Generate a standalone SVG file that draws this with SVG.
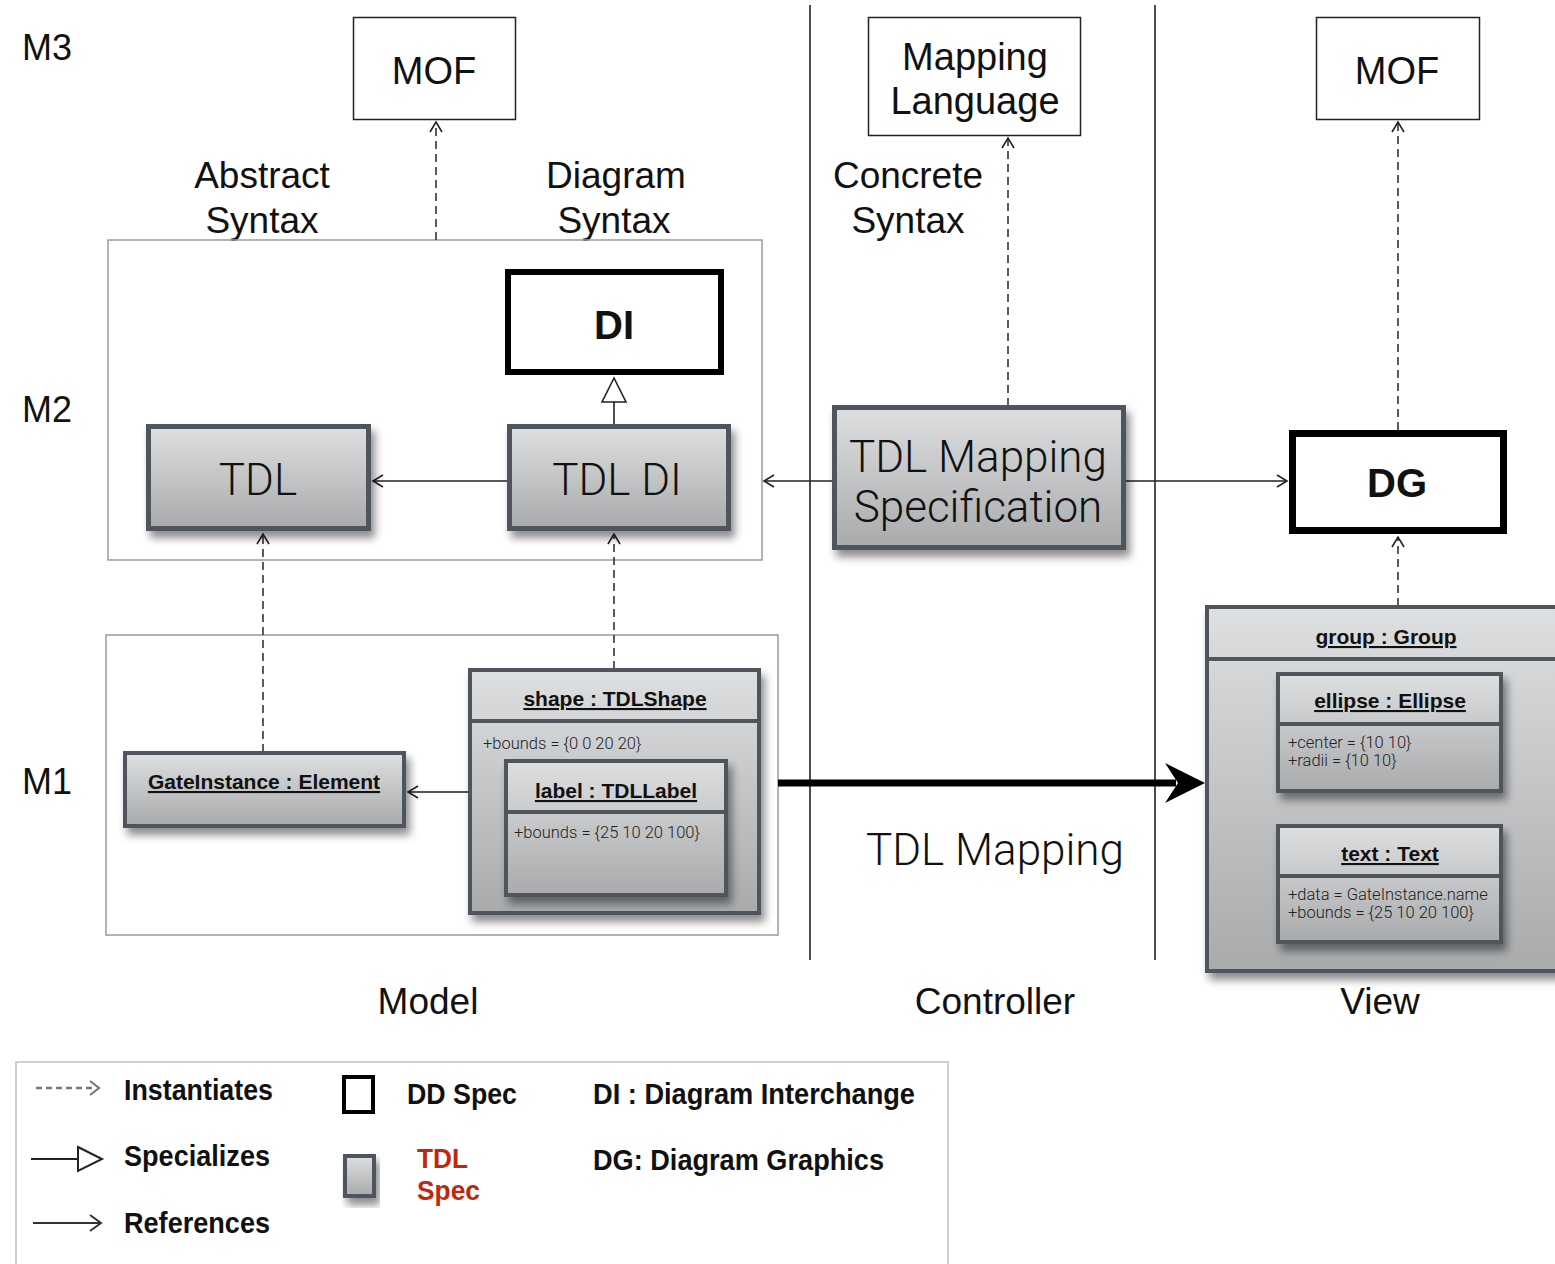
<svg xmlns="http://www.w3.org/2000/svg" width="1555" height="1264" viewBox="0 0 1555 1264">
<style>
.lbl{font-family:"Liberation Sans",Arial,sans-serif;fill:#111}
.light{font-family:Roboto,"Liberation Sans",sans-serif;font-weight:300;fill:#111}
.ttl{font-family:"Liberation Sans",Arial,sans-serif;font-weight:bold;font-size:21px;text-decoration:underline;fill:#111}
.attr{font-family:Roboto,"Liberation Sans",sans-serif;font-weight:300;font-size:16.5px;fill:#222}
.leg{font-family:"Liberation Sans",Arial,sans-serif;font-weight:bold;font-size:30px;fill:#111}
.gnode{fill:url(#gg);stroke:#50555b;stroke-width:5;filter:url(#sh)}
.gin{fill:url(#gg);stroke:#50555b;stroke-width:4;filter:url(#sh)}
.div{stroke:#50555b;stroke-width:4}
.thick{fill:#fff;stroke:#000}
.box{fill:#fff;stroke:#222;stroke-width:1.5}
.cont{fill:none;stroke:#9a9a9a;stroke-width:1.5}
.dash{stroke:#333;stroke-width:1.6;stroke-dasharray:8,5;fill:none}
.ln{stroke:#222;stroke-width:1.6;fill:none}
</style>
<defs>
<linearGradient id="gg" x1="0" y1="0" x2="0" y2="1">
<stop offset="0" stop-color="#dedfe1"/>
<stop offset="1" stop-color="#a8aaac"/>
</linearGradient>
<filter id="sh" x="-10%" y="-10%" width="130%" height="140%">
<feDropShadow dx="4" dy="7" stdDeviation="4" flood-color="#000" flood-opacity="0.45"/>
</filter>
<marker id="open" markerUnits="userSpaceOnUse" markerWidth="14" markerHeight="14" refX="12" refY="7" orient="auto">
<path d="M2,1 L12,7 L2,13" fill="none" stroke="#222" stroke-width="1.6"/>
</marker>
</defs>

<!-- level labels -->
<text class="lbl" x="22" y="60" font-size="36">M3</text>
<text class="lbl" x="22" y="422" font-size="36">M2</text>
<text class="lbl" x="22" y="794" font-size="36">M1</text>

<!-- column labels -->
<text class="lbl" x="262" y="188" font-size="37" text-anchor="middle">Abstract</text>
<text class="lbl" x="262" y="233" font-size="37" text-anchor="middle">Syntax</text>
<text class="lbl" x="616" y="188" font-size="37" text-anchor="middle">Diagram</text>
<text class="lbl" x="614" y="233" font-size="37" text-anchor="middle">Syntax</text>
<text class="lbl" x="908" y="188" font-size="37" text-anchor="middle">Concrete</text>
<text class="lbl" x="908" y="233" font-size="37" text-anchor="middle">Syntax</text>
<text class="lbl" x="428" y="1014" font-size="37" text-anchor="middle">Model</text>
<text class="lbl" x="995" y="1014" font-size="37" text-anchor="middle">Controller</text>
<text class="lbl" x="1380" y="1014" font-size="37" text-anchor="middle">View</text>

<!-- containers / separators -->
<rect class="cont" x="108" y="240" width="654" height="320"/>
<rect class="cont" x="106" y="635" width="672" height="300"/>
<line class="ln" x1="810" y1="5" x2="810" y2="960"/>
<line class="ln" x1="1155" y1="5" x2="1155" y2="960"/>

<g id="connectors">
<line class="dash" x1="436" y1="240" x2="436" y2="122" marker-end="url(#open)"/>
<line class="dash" x1="1008" y1="406" x2="1008" y2="138" marker-end="url(#open)"/>
<line class="dash" x1="1398" y1="430" x2="1398" y2="122" marker-end="url(#open)"/>
<line class="dash" x1="1398" y1="606" x2="1398" y2="537" marker-end="url(#open)"/>
<line class="dash" x1="263" y1="752" x2="263" y2="534" marker-end="url(#open)"/>
<line class="dash" x1="614" y1="669" x2="614" y2="534" marker-end="url(#open)"/>
<line class="ln" x1="614" y1="425" x2="614" y2="402"/>
<polygon points="614,378 602,402 626,402" fill="#fff" stroke="#222" stroke-width="1.6"/>
<line class="ln" x1="507" y1="481" x2="373" y2="481" marker-end="url(#open)"/>
<line class="ln" x1="833" y1="481" x2="764" y2="481" marker-end="url(#open)"/>
<line class="ln" x1="1125" y1="481" x2="1287" y2="481" marker-end="url(#open)"/>
<line x1="469" y1="792" x2="408" y2="792" stroke="#555" stroke-width="2.2" marker-end="url(#open)"/>
<line x1="778" y1="783" x2="1176" y2="783" stroke="#000" stroke-width="7"/>
<polygon points="1165,763 1205,783 1165,803 1178,783" fill="#000"/>
</g>

<g id="mof-left">
<rect class="box" x="353.5" y="17.5" width="162" height="102"/>
<text class="lbl" x="434" y="84" font-size="38" text-anchor="middle">MOF</text>
</g>
<g id="mapping-language">
<rect class="box" x="868.5" y="17.5" width="212" height="118"/>
<text class="lbl" x="975" y="70" font-size="38" text-anchor="middle">Mapping</text>
<text class="lbl" x="975" y="114" font-size="38" text-anchor="middle">Language</text>
</g>
<g id="mof-right">
<rect class="box" x="1316.5" y="17.5" width="163" height="102"/>
<text class="lbl" x="1397" y="84" font-size="38" text-anchor="middle">MOF</text>
</g>

<g id="di">
<rect class="thick" stroke-width="6" x="508" y="272" width="213" height="100"/>
<text class="lbl" x="614" y="339" font-size="40" font-weight="bold" text-anchor="middle">DI</text>
</g>
<g id="dg">
<rect class="thick" stroke-width="7" x="1292.5" y="433.5" width="211" height="97"/>
<text class="lbl" x="1397" y="497" font-size="40" font-weight="bold" text-anchor="middle">DG</text>
</g>

<g id="tdl">
<rect class="gnode" x="148.5" y="426.5" width="220" height="102"/>
<text class="light" x="258" y="495" font-size="44" text-anchor="middle">TDL</text>
</g>
<g id="tdl-di">
<rect class="gnode" x="509.5" y="426.5" width="219" height="102"/>
<text class="light" x="617" y="495" font-size="44" text-anchor="middle">TDL DI</text>
</g>
<g id="tdl-mapping-spec">
<rect class="gnode" x="834.5" y="407.5" width="289" height="140"/>
<text class="light" x="978" y="472" font-size="44" text-anchor="middle">TDL Mapping</text>
<text class="light" x="978" y="522" font-size="44" text-anchor="middle">Specification</text>
</g>

<g id="gateinstance">
<rect class="gin" x="125" y="753" width="279" height="73"/>
<text class="ttl" x="264" y="789" text-anchor="middle">GateInstance : Element</text>
</g>

<g id="shape">
<rect class="gin" x="470" y="670" width="289" height="243"/>
<line class="div" x1="470" y1="721" x2="759" y2="721"/>
<text class="ttl" x="615" y="706" text-anchor="middle">shape : TDLShape</text>
<text class="attr" x="483" y="749">+bounds = {0 0 20 20}</text>
</g>
<g id="label">
<rect class="gin" x="506" y="761" width="220" height="134"/>
<line class="div" x1="506" y1="812" x2="726" y2="812"/>
<text class="ttl" x="616" y="798" text-anchor="middle">label : TDLLabel</text>
<text class="attr" x="514" y="838">+bounds = {25 10 20 100}</text>
</g>

<text class="light" x="995" y="865" font-size="44" text-anchor="middle">TDL Mapping</text>

<g id="group">
<rect class="gin" x="1207" y="607" width="360" height="364"/>
<line class="div" x1="1207" y1="659" x2="1567" y2="659"/>
<text class="ttl" x="1386" y="644" text-anchor="middle">group : Group</text>
</g>
<g id="ellipse">
<rect class="gin" x="1278" y="674" width="223" height="117"/>
<line class="div" x1="1278" y1="724" x2="1501" y2="724"/>
<text class="ttl" x="1390" y="708" text-anchor="middle">ellipse : Ellipse</text>
<text class="attr" x="1288" y="748">+center = {10 10}</text>
<text class="attr" x="1288" y="766">+radii = {10 10}</text>
</g>
<g id="text">
<rect class="gin" x="1278" y="826" width="223" height="116"/>
<line class="div" x1="1278" y1="876" x2="1501" y2="876"/>
<text class="ttl" x="1390" y="861" text-anchor="middle">text : Text</text>
<text class="attr" x="1288" y="900">+data = GateInstance.name</text>
<text class="attr" x="1288" y="918">+bounds = {25 10 20 100}</text>
</g>

<g id="legend">
<rect x="16" y="1062" width="932" height="230" fill="none" stroke="#cfcfcf" stroke-width="2"/>
<line x1="36" y1="1088" x2="96" y2="1088" stroke="#777" stroke-width="2.5" stroke-dasharray="6,4"/>
<path d="M90,1081 L99,1088 L90,1095" fill="none" stroke="#777" stroke-width="2.2"/>
<line x1="31" y1="1159" x2="78" y2="1159" stroke="#222" stroke-width="2"/>
<polygon points="78,1147 102,1159 78,1171" fill="#fff" stroke="#222" stroke-width="2"/>
<line x1="33" y1="1223" x2="100" y2="1223" stroke="#333" stroke-width="2"/>
<path d="M90,1215 L101,1223 L90,1231" fill="none" stroke="#333" stroke-width="2"/>
<text class="leg" x="124" y="1100" textLength="149" lengthAdjust="spacingAndGlyphs">Instantiates</text>
<text class="leg" x="124" y="1166" textLength="146" lengthAdjust="spacingAndGlyphs">Specializes</text>
<text class="leg" x="124" y="1233" textLength="146" lengthAdjust="spacingAndGlyphs">References</text>
<rect x="344" y="1077" width="29" height="35" fill="#fff" stroke="#000" stroke-width="4"/>
<rect x="345" y="1156" width="29" height="40" fill="url(#gg)" stroke="#50555b" stroke-width="4" filter="url(#sh)"/>
<text class="leg" x="407" y="1104" textLength="110" lengthAdjust="spacingAndGlyphs">DD Spec</text>
<text class="leg" x="417" y="1168" style="fill:#c0280e;font-size:27px" textLength="51" lengthAdjust="spacingAndGlyphs">TDL</text>
<text class="leg" x="417" y="1200" style="fill:#c0280e;font-size:27px" textLength="63" lengthAdjust="spacingAndGlyphs">Spec</text>
<text class="leg" x="593" y="1104" textLength="322" lengthAdjust="spacingAndGlyphs">DI : Diagram Interchange</text>
<text class="leg" x="593" y="1170" textLength="291" lengthAdjust="spacingAndGlyphs">DG: Diagram Graphics</text>
</g>
</svg>
